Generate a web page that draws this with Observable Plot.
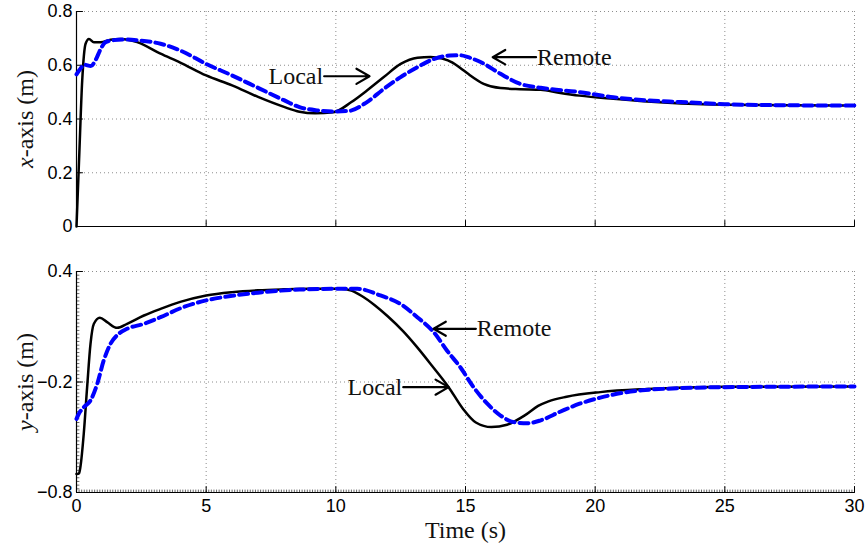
<!DOCTYPE html>
<html><head><meta charset="utf-8">
<script src="https://cdn.jsdelivr.net/npm/d3@7"></script>
<script src="https://cdn.jsdelivr.net/npm/@observablehq/plot@0.6"></script>
<style>
body{margin:0;background:#fff;}
#chart{width:865px;height:548px;}
#chart svg{display:block;}
</style></head><body><div id="chart"></div>
<script>
// ---- data ----
const tLocalX = [0,0.1,0.22,0.35,0.48,0.67,0.93,1.31,1.7,2.34,3.24,4,5,6,7,8,8.6,9.2,9.9,10.6,11.2,11.85,12.5,13.15,13.65,14.1,14.5,14.8,15.1,15.7,16.35,17.1,17.9,18.6,19.4,20.7,22,23.3,25,27.5,30];
const localX  = [0,0.25,0.543,0.68,0.698,0.686,0.686,0.695,0.698,0.686,0.643,0.61,0.562,0.525,0.482,0.445,0.427,0.421,0.425,0.463,0.506,0.556,0.605,0.628,0.631,0.625,0.61,0.59,0.568,0.531,0.515,0.511,0.509,0.498,0.487,0.475,0.465,0.458,0.453,0.451,0.45];
const tRemoteX = [0,0.15,0.3,0.55,0.75,0.93,1.12,1.4,1.8,2.34,3.24,4,5,6,7,8,8.6,9.3,9.9,10.5,11.2,11.85,12.5,13.15,13.8,14.4,14.8,15.1,15.6,16.35,17.1,17.9,19.4,20.7,22,23.3,25,27.5,30];
const remoteX  = [0.566,0.587,0.602,0.597,0.622,0.66,0.686,0.693,0.696,0.693,0.68,0.655,0.605,0.562,0.516,0.47,0.444,0.432,0.428,0.43,0.463,0.512,0.556,0.593,0.624,0.636,0.637,0.63,0.611,0.568,0.531,0.516,0.5,0.481,0.469,0.463,0.455,0.451,0.45];
const tLocalY = [0,0.1,0.15,0.28,0.41,0.54,0.67,0.9,1.18,1.57,1.95,2.6,3.24,4,5,6,7,8,9,10.2,10.6,11,11.5,12,12.6,13.1,13.7,14.35,14.9,15.4,16,16.6,17.3,17.8,18.2,18.9,20.2,22,25,30];
const localY  = [-0.70,-0.695,-0.662,-0.481,-0.228,0.007,0.116,0.149,0.125,0.094,0.116,0.161,0.197,0.235,0.27,0.288,0.298,0.303,0.306,0.306,0.296,0.267,0.217,0.157,0.075,-0.005,-0.11,-0.228,-0.345,-0.42,-0.445,-0.432,-0.38,-0.33,-0.305,-0.28,-0.255,-0.238,-0.226,-0.224];
const tRemoteY = [0,0.1,0.28,0.54,0.8,1.05,1.31,1.63,1.95,2.6,3.24,4,5,6,7,8.6,10,10.83,11.72,12.49,13.14,13.78,14.29,14.8,15.31,15.84,16.35,16.86,17.38,17.9,18.67,19.4,20.2,21,21.8,23,25,30];
const remoteY  = [-0.40,-0.37,-0.337,-0.30,-0.21,-0.083,0.007,0.062,0.089,0.116,0.152,0.2,0.243,0.268,0.285,0.302,0.306,0.306,0.27,0.224,0.152,0.07,-0.03,-0.12,-0.228,-0.318,-0.382,-0.418,-0.424,-0.408,-0.36,-0.318,-0.285,-0.26,-0.245,-0.235,-0.228,-0.224];

const xDomain = [0, 30];
const xTicks = [0, 5, 10, 15, 20, 25, 30];
const yDomainTop = [0, 0.8];
const yTicksTop = [0, 0.2, 0.4, 0.6, 0.8];
const yDomainBottom = [-0.8, 0.4];
const yTicksBottom = [-0.8, -0.2, 0.4];
const yLabelTop = "x-axis (m)";
const yLabelBottom = "y-axis (m)";
const xLabel = "Time (s)";

// annotations (data coordinates): label, arrow tail x, arrow tip x, y
const notesTopLabel = ["Local", "Remote"];
const notesTopTail = [9.55, 17.72];
const notesTopTip = [11.3, 16.05];
const notesTopY = [0.559, 0.63];
const notesBottomLabel = ["Local", "Remote"];
const notesBottomTail = [12.6, 15.4];
const notesBottomTip = [14.35, 13.77];
const notesBottomY = [-0.228, 0.089];

// ---- helpers ----
const zip = (ts, vs) => ts.map((t, i) => ({t, v: vs[i]}));
const notes = (labels, tails, tips, ys) => labels.map((label, i) => ({label, x1: tails[i], x2: tips[i], y: ys[i]}));
const fmt = d => d === 0 ? "0" : d.toFixed(1).replace("-", "\u2212");
const tickUp = {draw(ctx, l) { ctx.moveTo(0, 0); ctx.lineTo(0, -l); }};
const serif = "'Liberation Serif', 'Times New Roman', serif";

function panel({height, marginTop, marginBottom, yDomain, yTicks, local, remote, ann, yLabel, showX, minor}) {
  const grid = {stroke: "#808080", strokeOpacity: 1, strokeWidth: 0.9, strokeDasharray: "1,3"};
  const left = ann.filter(d => d.x1 < d.x2);
  const right = ann.filter(d => d.x1 > d.x2);
  const marks = [
    Plot.gridX(xTicks.slice(1), grid),
    Plot.gridY(yTicks.slice(1), grid),
    minor ? Plot.vector(d3.range(xDomain[0], xDomain[1] + 1e-9, 0.1), {x: d => d, frameAnchor: "bottom", length: 2.5, anchor: "start", shape: tickUp, rotate: 0, stroke: "black", strokeWidth: 0.6}) : null,
    minor ? Plot.vector(d3.range(yDomain[0], yDomain[1] + 1e-9, 0.02), {y: d => d, frameAnchor: "left", length: 2.5, anchor: "start", shape: tickUp, rotate: 90, stroke: "black", strokeWidth: 0.6}) : null,
    Plot.vector(xTicks, {x: d => d, frameAnchor: "bottom", length: 6, anchor: "start", shape: tickUp, rotate: 0, stroke: "black", strokeWidth: 1}),
    Plot.vector(yTicks, {y: d => d, frameAnchor: "left", length: 6, anchor: "start", shape: tickUp, rotate: 90, stroke: "black", strokeWidth: 1}),
    Plot.ruleX([xDomain[0]], {stroke: "black", strokeWidth: 1.2}),
    Plot.ruleY([yDomain[0]], {stroke: "black", strokeWidth: 1.2}),
    Plot.axisY(yTicks, {tickSize: 0, tickPadding: 4, tickFormat: fmt, label: null}),
    showX ? Plot.axisX(xTicks, {tickSize: 0, tickPadding: 7, label: null}) : null,
    Plot.line(local, {x: "t", y: "v", stroke: "black", strokeWidth: 2.5, curve: "monotone-x"}),
    Plot.line(remote, {x: "t", y: "v", stroke: "#0000ff", strokeWidth: 4, strokeDasharray: "9,5", curve: "monotone-x"}),
    Plot.arrow(ann, {x1: "x1", y1: "y", x2: "x2", y2: "y", stroke: "black", strokeWidth: 2.2, headLength: 13, headAngle: 60}),
    Plot.text(left, {x: "x1", y: "y", text: "label", textAnchor: "end", dx: -1, fontFamily: serif, fontSize: 24, fill: "#111"}),
    Plot.text(right, {x: "x1", y: "y", text: "label", textAnchor: "start", dx: 1, fontFamily: serif, fontSize: 24, fill: "#111"}),
    Plot.text([yLabel], {frameAnchor: "left", textAnchor: "middle", lineAnchor: "middle", rotate: -90, dx: -51, fontFamily: serif, fontSize: 24, fill: "#111"}),
    showX ? Plot.text([xLabel], {frameAnchor: "bottom", textAnchor: "middle", lineAnchor: "middle", dy: 38, fontFamily: serif, fontSize: 24, fill: "#111"}) : null
  ].filter(Boolean);
  return Plot.plot({
    width: 865, height, marginTop, marginBottom, marginLeft: 76, marginRight: 11,
    x: {domain: xDomain, axis: null},
    y: {domain: yDomain, axis: null},
    style: {fontFamily: "'Liberation Sans', Arial, sans-serif", fontSize: "18px", background: "white", color: "black", overflow: "visible"},
    marks
  });
}

function italicize(svg, full, n) {
  for (const t of svg.querySelectorAll("text")) {
    if (t.textContent === full) {
      t.textContent = "";
      const a = document.createElementNS("http://www.w3.org/2000/svg", "tspan");
      a.setAttribute("font-style", "italic");
      a.textContent = full.slice(0, n);
      const b = document.createElementNS("http://www.w3.org/2000/svg", "tspan");
      b.textContent = full.slice(n);
      t.append(a, b);
    }
  }
}

const topPanel = panel({height: 250, marginTop: 11, marginBottom: 24, yDomain: yDomainTop, yTicks: yTicksTop,
  local: zip(tLocalX, localX), remote: zip(tRemoteX, remoteX),
  ann: notes(notesTopLabel, notesTopTail, notesTopTip, notesTopY), yLabel: yLabelTop, showX: false, minor: false});
const bottomPanel = panel({height: 298, marginTop: 21, marginBottom: 56, yDomain: yDomainBottom, yTicks: yTicksBottom,
  local: zip(tLocalY, localY), remote: zip(tRemoteY, remoteY),
  ann: notes(notesBottomLabel, notesBottomTail, notesBottomTip, notesBottomY), yLabel: yLabelBottom, showX: true, minor: true});
italicize(topPanel, yLabelTop, 1);
italicize(bottomPanel, yLabelBottom, 1);
document.getElementById("chart").append(topPanel, bottomPanel);
</script>
</body></html>
